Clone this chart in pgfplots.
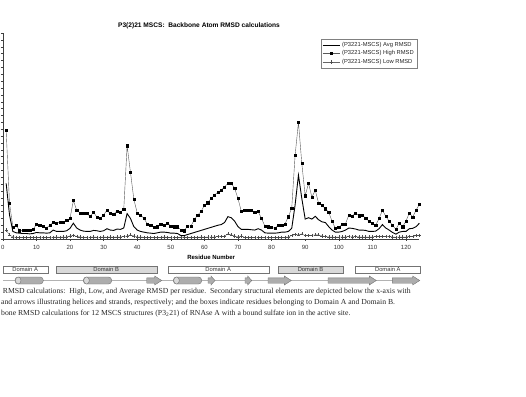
\documentclass[border=0pt]{standalone}
\usepackage{pgfplots}
\pgfplotsset{compat=1.18}
\usepackage{pgfplotstable}
\usepackage{fontspec}
\setmainfont{Liberation Serif}
\newfontfamily\arial{Liberation Sans}

\pgfplotstableread{
res high avg low
1 1.58 0.81 0.13
2 0.52 0.35 0.06
3 0.175 0.11 0.03
4 0.20 0.09 0.025
5 0.12 0.085 0.025
6 0.13 0.08 0.02
7 0.13 0.08 0.025
8 0.13 0.075 0.025
9 0.14 0.08 0.02
10 0.21 0.095 0.025
11 0.20 0.09 0.025
12 0.19 0.09 0.02
13 0.16 0.085 0.025
14 0.20 0.09 0.02
15 0.24 0.13 0.025
16 0.23 0.11 0.03
17 0.25 0.11 0.025
18 0.25 0.11 0.03
19 0.27 0.12 0.03
20 0.30 0.155 0.045
21 0.56 0.23 0.05
22 0.42 0.16 0.04
23 0.38 0.13 0.03
24 0.37 0.115 0.025
25 0.37 0.11 0.025
26 0.33 0.11 0.025
27 0.39 0.125 0.03
28 0.32 0.12 0.025
29 0.30 0.11 0.025
30 0.35 0.12 0.03
31 0.42 0.15 0.025
32 0.37 0.13 0.03
33 0.36 0.125 0.025
34 0.41 0.145 0.03
35 0.39 0.14 0.03
36 0.43 0.16 0.035
37 1.36 0.37 0.045
38 0.97 0.30 0.06
39 0.58 0.18 0.045
40 0.38 0.13 0.03
41 0.35 0.11 0.03
42 0.30 0.10 0.025
43 0.22 0.09 0.025
44 0.20 0.085 0.025
45 0.17 0.08 0.02
46 0.18 0.09 0.025
47 0.21 0.10 0.025
48 0.20 0.10 0.03
49 0.23 0.095 0.025
50 0.19 0.085 0.025
51 0.18 0.085 0.025
52 0.18 0.08 0.025
53 0.13 0.05 0.02
54 0.12 0.05 0.02
55 0.19 0.065 0.025
56 0.19 0.08 0.025
57 0.28 0.095 0.025
58 0.35 0.11 0.025
59 0.40 0.125 0.03
60 0.49 0.14 0.025
61 0.53 0.155 0.03
62 0.59 0.17 0.03
63 0.64 0.185 0.03
64 0.68 0.20 0.035
65 0.71 0.21 0.035
66 0.76 0.24 0.04
67 0.81 0.325 0.075
68 0.81 0.31 0.06
69 0.74 0.26 0.045
70 0.59 0.18 0.03
71 0.40 0.14 0.045
72 0.42 0.14 0.025
73 0.42 0.14 0.025
74 0.42 0.135 0.02
75 0.39 0.13 0.025
76 0.40 0.15 0.025
77 0.30 0.13 0.025
78 0.19 0.09 0.025
79 0.18 0.085 0.025
80 0.17 0.085 0.02
81 0.155 0.085 0.025
82 0.20 0.09 0.025
83 0.20 0.10 0.025
84 0.22 0.10 0.025
85 0.325 0.11 0.03
86 0.45 0.155 0.05
87 1.22 0.495 0.065
88 1.70 0.93 0.06
89 1.10 0.59 0.075
90 0.63 0.29 0.05
91 0.81 0.31 0.05
92 0.61 0.29 0.055
93 0.71 0.33 0.06
94 0.52 0.28 0.06
95 0.49 0.25 0.045
96 0.44 0.24 0.035
97 0.39 0.18 0.03
98 0.26 0.13 0.03
99 0.155 0.10 0.025
100 0.17 0.10 0.03
101 0.21 0.11 0.03
102 0.22 0.13 0.03
103 0.35 0.16 0.035
104 0.33 0.155 0.03
105 0.38 0.145 0.035
106 0.34 0.13 0.03
107 0.35 0.13 0.03
108 0.30 0.125 0.03
109 0.26 0.11 0.03
110 0.23 0.11 0.03
111 0.20 0.115 0.035
112 0.30 0.15 0.035
113 0.42 0.21 0.035
114 0.33 0.16 0.035
115 0.26 0.13 0.035
116 0.20 0.095 0.03
117 0.14 0.07 0.025
118 0.23 0.10 0.03
119 0.18 0.11 0.03
120 0.26 0.11 0.03
121 0.38 0.15 0.035
122 0.32 0.155 0.035
123 0.42 0.18 0.05
124 0.505 0.23 0.055
}\rmsd

\begin{document}
\begin{tikzpicture}[x=1pt,y=1pt]
\path[use as bounding box] (0,0) rectangle (526,396);
\begin{axis}[
  at={(2.8pt,157pt)}, anchor=south west,
  scale only axis, width=416.6pt, height=206pt,
  xmin=0, xmax=124, ymin=0, ymax=3,
  axis lines=left, axis line style={draw=black!75, line width=0.4pt, -},
  xtick={0,10,...,120}, ytick={0,0.1,...,3.0},
  yticklabels={},
  tick align=outside, major tick length=2pt,
  tick style={draw=black!75, line width=0.3pt},
  /pgf/number format/assume math mode=true,
  xticklabel style={font=\arial\fontsize{6}{7}\selectfont, inner sep=0pt, yshift=-4pt, text=black!80},
  xlabel={Residue Number},
  xlabel style={font=\arial\bfseries\fontsize{6}{7}\selectfont, at={(axis description cs:0.5,0)}, anchor=center, yshift=-18.7pt},
  legend style={at={(rel axis cs:0.994,0.971)}, anchor=north east, draw=black!50, line width=0.4pt,
    font=\arial\fontsize{5.8}{7}\selectfont, text=black!85, inner sep=1pt, row sep=-1.2pt, cells={anchor=west}},
  legend cell align=left,
  clip=false,
]
\addplot[black, line width=0.9pt] table[x=res,y=avg] {\rmsd};
\addlegendentry{(P3221-MSCS) Avg RMSD}
\addplot[black!65, line width=0.4pt, mark=square*, mark size=1.1pt, mark options={fill=black, draw=black}] table[x=res,y=high] {\rmsd};
\addlegendentry{(P3221-MSCS) High RMSD}
\addplot[black!60, line width=0.35pt, mark=+, mark size=1.6pt, mark options={draw=black!70}] table[x=res,y=low] {\rmsd};
\addlegendentry{(P3221-MSCS) Low RMSD}
\end{axis}

% title
\node[font=\arial\bfseries\fontsize{6.6}{8}\selectfont] at (199,370) {P3(2)21 MSCS:\ \ Backbone Atom RMSD calculations};

% domain boxes
\tikzset{dom/.style={draw=black!55, line width=0.4pt}}
\def\dy{123}\def\dh{6.7}
\draw[dom, fill=white] (2.7,\dy) rectangle (47.7,\dy+\dh);
\draw[dom, fill=black!15] (55.7,\dy) rectangle (156.7,\dy+\dh);
\draw[dom, fill=white] (167.7,\dy) rectangle (268.7,\dy+\dh);
\draw[dom, fill=black!15] (278,\dy) rectangle (343,\dy+\dh);
\draw[dom, fill=white] (355.3,\dy) rectangle (420.3,\dy+\dh);
\tikzset{dl/.style={font=\arial\fontsize{5.8}{6}\selectfont, text=black!80, inner sep=0pt}}
\node[dl] at (25.2,\dy+3.4) {Domain A};
\node[dl] at (106.2,\dy+3.4) {Domain B};
\node[dl] at (218.2,\dy+3.4) {Domain A};
\node[dl] at (310.5,\dy+3.4) {Domain B};
\node[dl] at (387.8,\dy+3.4) {Domain A};

% secondary structure line
\draw[black!30, line width=0.6pt] (2.8,115.5) -- (420,115.5);
% helices
\tikzset{hel/.style={draw=black!55, fill=black!32, line width=0.4pt, rounded corners=3.2pt}}
\foreach \a/\b in {15/43.3, 83.3/111.7, 173.3/201.7}{
  \draw[hel] (\a,112) rectangle (\b,119);
  \draw[draw=black!55, fill=black!15, line width=0.4pt] (\a+3.2,115.5) ellipse (2.8 and 3.5);
}
% strands (arrows)
\tikzset{strnd/.style={draw=black!55, fill=black!32, line width=0.4pt}}
\foreach \a/\b/\h in {146.7/161.7/7, 208/215/4, 245/251.7/4, 268/291.3/7, 328/376.3/7, 392.3/419.7/7}{
  \draw[strnd] (\a,112.8) -- (\b-\h,112.8) -- (\b-\h,111) -- (\b,115.5) -- (\b-\h,120) -- (\b-\h,118.2) -- (\a,118.2) -- cycle;
}

% caption
\tikzset{captxt/.style={font=\fontsize{7.7}{9.6}\selectfont, anchor=base west, inner sep=0pt, text=black!85}}
\node[captxt] at (2.7,102.5) {RMSD calculations:\ \ High, Low, and Average RMSD per residue.\ \ Secondary structural elements are depicted below the x-axis with};
\node[captxt] at (1,91.5) {and arrows illustrating helices and strands, respectively; and the boxes indicate residues belonging to Domain A and Domain B.};
\node[captxt] at (1,80.5) {bone RMSD calculations for 12 MSCS structures (P3\textsubscript{2}21) of RNAse A with a bound sulfate ion in the active site.};
\end{tikzpicture}
\end{document}
